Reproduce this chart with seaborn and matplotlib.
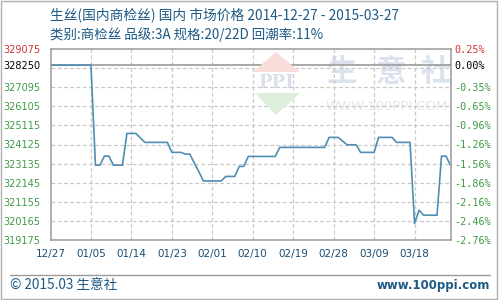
import matplotlib
matplotlib.use("Agg")
import matplotlib.pyplot as plt
import seaborn as sns
import pandas as pd
from matplotlib.patches import Polygon, Rectangle
from matplotlib.lines import Line2D

# ---------------- data ----------------
start_date = "2014-12-27"
prices = [
    328250, 328250, 328250, 328250, 328250, 328250, 328250, 328250, 328250, 328250,  # d0-9
    323050, 323050, 323520, 323520, 323050, 323050, 323050, 324700, 324700, 324700,  # d10-19
    324470, 324235, 324235, 324235, 324235, 324235, 324235, 323715, 323715, 323715,  # d20-29
    323625, 323625, 323165, 322715, 322230, 322230, 322230, 322230, 322230, 322465,  # d30-39
    322465, 322465, 322985, 322985, 323505, 323505, 323505, 323505, 323505, 323505,  # d40-49
    323505, 323975, 323975, 323975, 323975, 323975, 323975, 323975, 323975, 323975,  # d50-59
    323975, 323975, 324495, 324495, 324495, 324300, 324110, 324110, 324110, 323715,  # d60-69
    323715, 323715, 323715, 324495, 324495, 324495, 324495, 324235, 324235, 324235,  # d70-79
    324235, 320020, 320710, 320450, 320450, 320450, 320450, 323520, 323520, 323050,  # d80-89
]
base_price = 328250
y_ticks = [329075, 328250, 327095, 326105, 325115, 324125, 323135,
           322145, 321155, 320165, 319175]
grid_levels = [328085, 327095, 326105, 325115, 324125, 323135,
               322145, 321155, 320165]
tick_step_days = 9

title_1 = "生丝(国内商检丝) 国内 市场价格 2014-12-27 - 2015-03-27"
title_2 = "类别:商检丝 品级:3A 规格:20/22D 回潮率:11%"
footer_left = "© 2015.03 生意社"
footer_right = "www.100ppi.com"

dates = pd.date_range(start_date, periods=len(prices), freq="D")
df = pd.DataFrame({"date": dates, "price": prices})

# ---------------- style ----------------
sns.set_theme(style="white")
plt.rcParams['font.family'] = ['DejaVu Sans', 'Noto Sans CJK SC']
CJK = ['Noto Sans CJK SC', 'DejaVu Sans']

TITLE_C = "#1d5a85"
TICK_C = "#1a4d73"
GREEN = "#3f9a45"
RED = "#cc3333"
GRID_C = "#c8c8c8"
FRAME_C = "#9a9a9a"
LINE_C = "#4f8db3"

fig = plt.figure(figsize=(5, 3), dpi=100)
fig.patch.set_facecolor("white")
ax = fig.add_axes([50.5 / 500, 1 - 239.7 / 300, 400 / 500, 190.4 / 300])
ax.set_facecolor("white")


def fx(x):
    return x / 500


def fy(y):
    return 1 - y / 300


# watermark (behind everything, clipped to the plot area)
fig.patches.append(Polygon([(fx(253), fy(72)), (fx(276), fy(52)), (fx(300), fy(72))],
                           closed=True, transform=fig.transFigure, facecolor="#f7dcd8",
                           edgecolor="none", zorder=0.5))
fig.patches.append(Polygon([(fx(255), fy(93)), (fx(300), fy(93)), (fx(276), fy(115))],
                           closed=True, transform=fig.transFigure, facecolor="#dcefdc",
                           edgecolor="none", zorder=0.5))
ax.text(fx(276), fy(83), "PPI", transform=fig.transFigure, ha="center", va="center",
        fontsize=13, fontweight="bold", color="#d9e0ec", zorder=0.6,
        family="DejaVu Serif", clip_on=True)
for ch, cx in zip("生意社", [341, 391, 436]):
    ax.text(fx(cx), fy(72), ch, transform=fig.transFigure, ha="center", va="center",
            fontsize=22, fontweight="bold", color="#dbe2ee", zorder=0.6, family=CJK,
            clip_on=True)
ax.text(fx(387), fy(107), "WWW.100PPI.COM", transform=fig.transFigure, ha="center",
        va="center", fontsize=9.5, color="#e6e6e6", zorder=0.6, clip_on=True)

# grid
for g in grid_levels:
    ax.axhline(g, color=GRID_C, lw=0.9, ls=(0, (3, 2)), zorder=1)
for d in dates[tick_step_days::tick_step_days]:
    ax.axvline(d, color=GRID_C, lw=0.9, ls=(0, (3, 2)), zorder=1)
ax.axhline(base_price, color=FRAME_C, lw=1.2, zorder=1.5)

sns.lineplot(data=df, x="date", y="price", ax=ax, color=LINE_C, lw=1.2, zorder=3)

ax.set_xlim(dates[0], dates[-1])
ax.set_ylim(y_ticks[-1], y_ticks[0])
ax.set_xlabel("")
ax.set_ylabel("")
ax.grid(False)

xt = dates[::tick_step_days]
ax.set_xticks(xt)
ax.set_xticklabels([d.strftime("%m/%d") for d in xt], color=TICK_C, fontsize=7.5)
ax.set_yticks(y_ticks)
ax.set_yticklabels([str(v) for v in y_ticks], fontsize=7)
for i, lab in enumerate(ax.get_yticklabels()):
    lab.set_color(RED if i == 0 else ("black" if i == 1 else GREEN))
ax.tick_params(axis="x", length=0, pad=7)
ax.tick_params(axis="y", length=0, pad=7.5)
for s in ax.spines.values():
    s.set_color(FRAME_C)
    s.set_linewidth(1.1)
    s.set_zorder(4)

ax2 = ax.twinx()
lo, hi = ax.get_ylim()
ax2.set_ylim((lo / base_price - 1) * 100, (hi / base_price - 1) * 100)
pct = [(v / base_price - 1) * 100 for v in y_ticks]
ax2.set_yticks(pct)
ax2.set_yticklabels([f"{p:.2f}%" for p in pct], fontsize=7.3, family="DejaVu Sans Mono")
for i, lab in enumerate(ax2.get_yticklabels()):
    lab.set_color(RED if i == 0 else ("black" if i == 1 else GREEN))
ax2.tick_params(axis="y", length=0, pad=2.5)
ax2.grid(False)
for s in ax2.spines.values():
    s.set_visible(False)

# titles
fig.text(fx(50), fy(15), title_1, ha="left", va="center", fontsize=9.9,
         color=TITLE_C, family=CJK)
fig.text(fx(50), fy(35), title_2, ha="left", va="center", fontsize=9.7,
         color=TITLE_C, family=CJK)

# footer
fig.lines.append(Line2D([fx(10), fx(490)], [fy(275), fy(275)], transform=fig.transFigure,
                        color=FRAME_C, lw=1))
fig.text(fx(10), fy(285), footer_left, ha="left", va="center", fontsize=9.8,
         color=TITLE_C, family=CJK)
fig.text(fx(490), fy(285), footer_right, ha="right", va="center", fontsize=8.5,
         color=TITLE_C, fontweight="bold")

# outer frame
fig.patches.append(Rectangle((0.001, 0.002), 0.993, 0.995, transform=fig.transFigure,
                             fill=False, edgecolor="#b0b0b0", lw=1))

fig.savefig("out.png", dpi=100)
